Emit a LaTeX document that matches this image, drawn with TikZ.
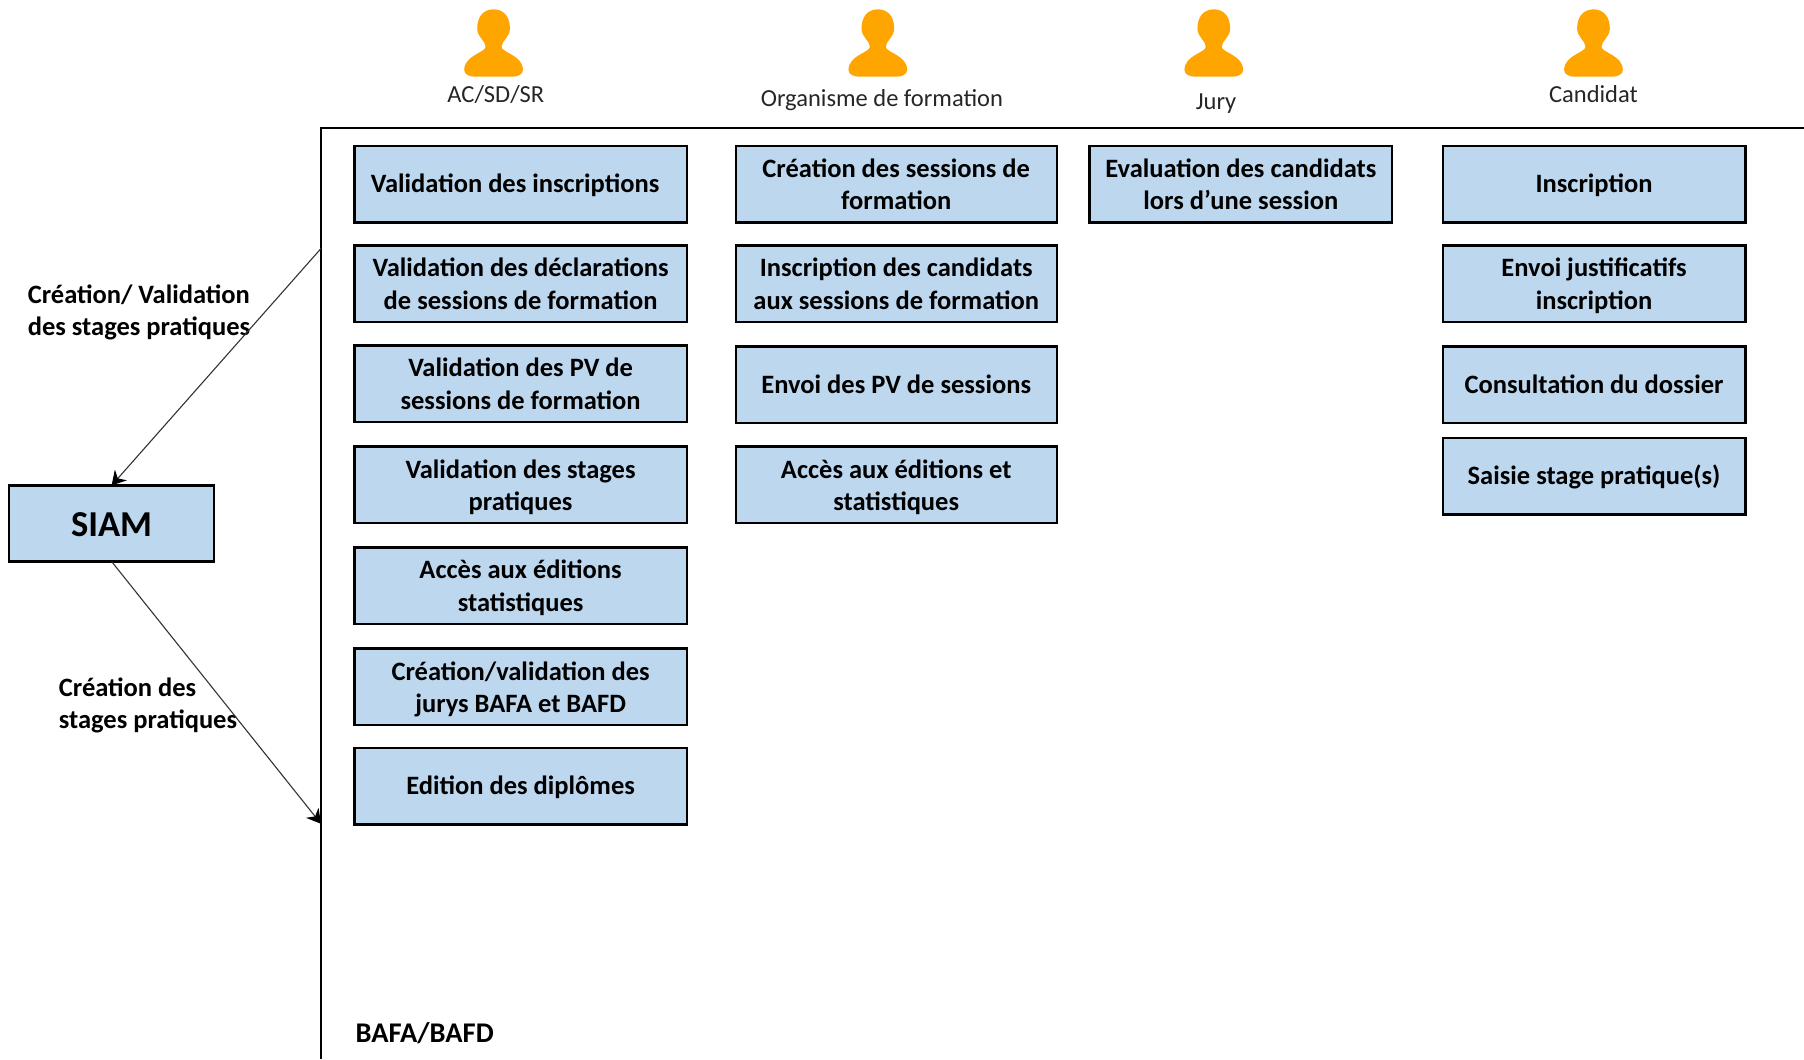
\documentclass[tikz,border=0pt]{standalone}
\usepackage{fontspec}
\setmainfont{Carlito}
\usetikzlibrary{arrows.meta}
\definecolor{boxblue}{HTML}{BDD7EE}
\definecolor{persona}{HTML}{FFA500}
\tikzset{
  x=1.1505pt,y=-1.1505pt,
  bx/.style={draw=black,line width=2.4pt,fill=boxblue,inner sep=0pt,outer sep=0pt,minimum height=76.5pt,align=center,font=\bfseries\fontsize{26.5}{32.3}\selectfont,text height=51pt,text depth=0pt},
  one/.style={text height=16.5pt,text depth=0pt},
  bxa/.style={bx,minimum width=332.5pt},
  bxb/.style={bx,minimum width=321pt},
  bxc/.style={bx,minimum width=302.6pt},
  lab/.style={inner sep=0pt,align=left,anchor=west,font=\bfseries\fontsize{26.5}{32.3}\selectfont,text height=52pt,text depth=0pt},
  who/.style={inner sep=0pt,text=black!85,font=\fontsize{24.5}{29}\selectfont},
  conn/.style={draw=black!80,line width=1.1pt,-{Stealth[length=14pt,width=16pt,color=black]}},
  person/.pic={
    \fill[persona,scale=0.29] (0,28) .. controls (32,28) and (49,52) .. (49,85)
      .. controls (49,112) and (24,122) .. (24,140)
      .. controls (24,158) and (88,165) .. (88,210)
      .. controls (88,224) and (70,230) .. (55,230)
      -- (-55,230)
      .. controls (-70,230) and (-88,224) .. (-88,210)
      .. controls (-88,165) and (-24,158) .. (-24,140)
      .. controls (-24,122) and (-49,112) .. (-49,85)
      .. controls (-49,52) and (-32,28) .. (0,28) -- cycle;
  }
}
\begin{document}
\begin{tikzpicture}
\useasboundingbox (0,0) rectangle (1568,920.5);
\coordinate (frTR) at (1568,111);
\coordinate (frTL) at (279,111);
\coordinate (frBL) at (279,920.5);
\coordinate (frIn) at (279,216);
\coordinate (frOut) at (279,716);
\draw[line width=2.4pt,line join=miter] (frTR) -- (frTL) -- (frBL);

\pic (p1) at (429,0) {person};
\pic (p2) at (763,0) {person};
\pic (p3) at (1055,0) {person};
\pic (p4) at (1385,0) {person};
\node[who] (w1) at (431,82) {AC/SD/SR};
\node[who] (w2) at (766.5,87) {Organisme de formation};
\node[who] (w3) at (1057,90) {Jury};
\node[who] (w4) at (1385,81.5) {Candidat};

\node[bxa,one] (a1) at (452.5,160) {Validation des inscriptions\hspace*{11pt}};
\node[bxa] (a2) at (452.5,246.5) {Validation des déclarations\\de sessions de formation};
\node[bxa] (a3) at (452.5,333.5) {Validation des PV de\\sessions de formation};
\node[bxa] (a4) at (452.5,421.5) {Validation des stages\\pratiques};
\node[bxa] (a5) at (452.5,509) {Accès aux éditions\\statistiques};
\node[bxa] (a6) at (452.5,597) {Création/validation des\\jurys BAFA et BAFD};
\node[bxa,one] (a7) at (452.5,683.5) {Edition des diplômes};

\node[bxb] (b1) at (779,160) {Création des sessions de\\formation};
\node[bxb] (b2) at (779,246.5) {Inscription des candidats\\aux sessions de formation};
\node[bxb,one] (b3) at (779,334.5) {Envoi des PV de sessions};
\node[bxb] (b4) at (779,421.5) {Accès aux éditions et\\statistiques};

\node[bxc] (c1) at (1078.5,160) {Evaluation des candidats\\lors d’une session};

\node[bxc,one] (d1) at (1385.5,160) {Inscription};
\node[bxc] (d2) at (1385.5,246.5) {Envoi justificatifs\\inscription};
\node[bxc,one] (d3) at (1385.5,334.5) {Consultation du dossier};
\node[bxc,one] (d4) at (1385.5,414) {Saisie stage pratique(s)};

\node[draw=black,line width=2.4pt,fill=boxblue,inner sep=0pt,outer sep=0pt,minimum width=204.8pt,minimum height=76pt,font=\bfseries\fontsize{36.5}{44}\selectfont,text height=25.5pt,text depth=0pt] (siam) at (97,455) {SIAM};

\node[lab] (l1) at (24,269) {Création/ Validation\\des stages pratiques};
\node[lab] (l2) at (51,611) {Création des\\stages pratiques};
\node[lab,font=\bfseries\fontsize{28.5}{34}\selectfont,text height=19pt] (l3) at (309,897.5) {BAFA/BAFD};

\draw[conn] (frIn) -- (siam.north);
\draw[conn] (siam.south) -- (frOut);
\end{tikzpicture}
\end{document}
